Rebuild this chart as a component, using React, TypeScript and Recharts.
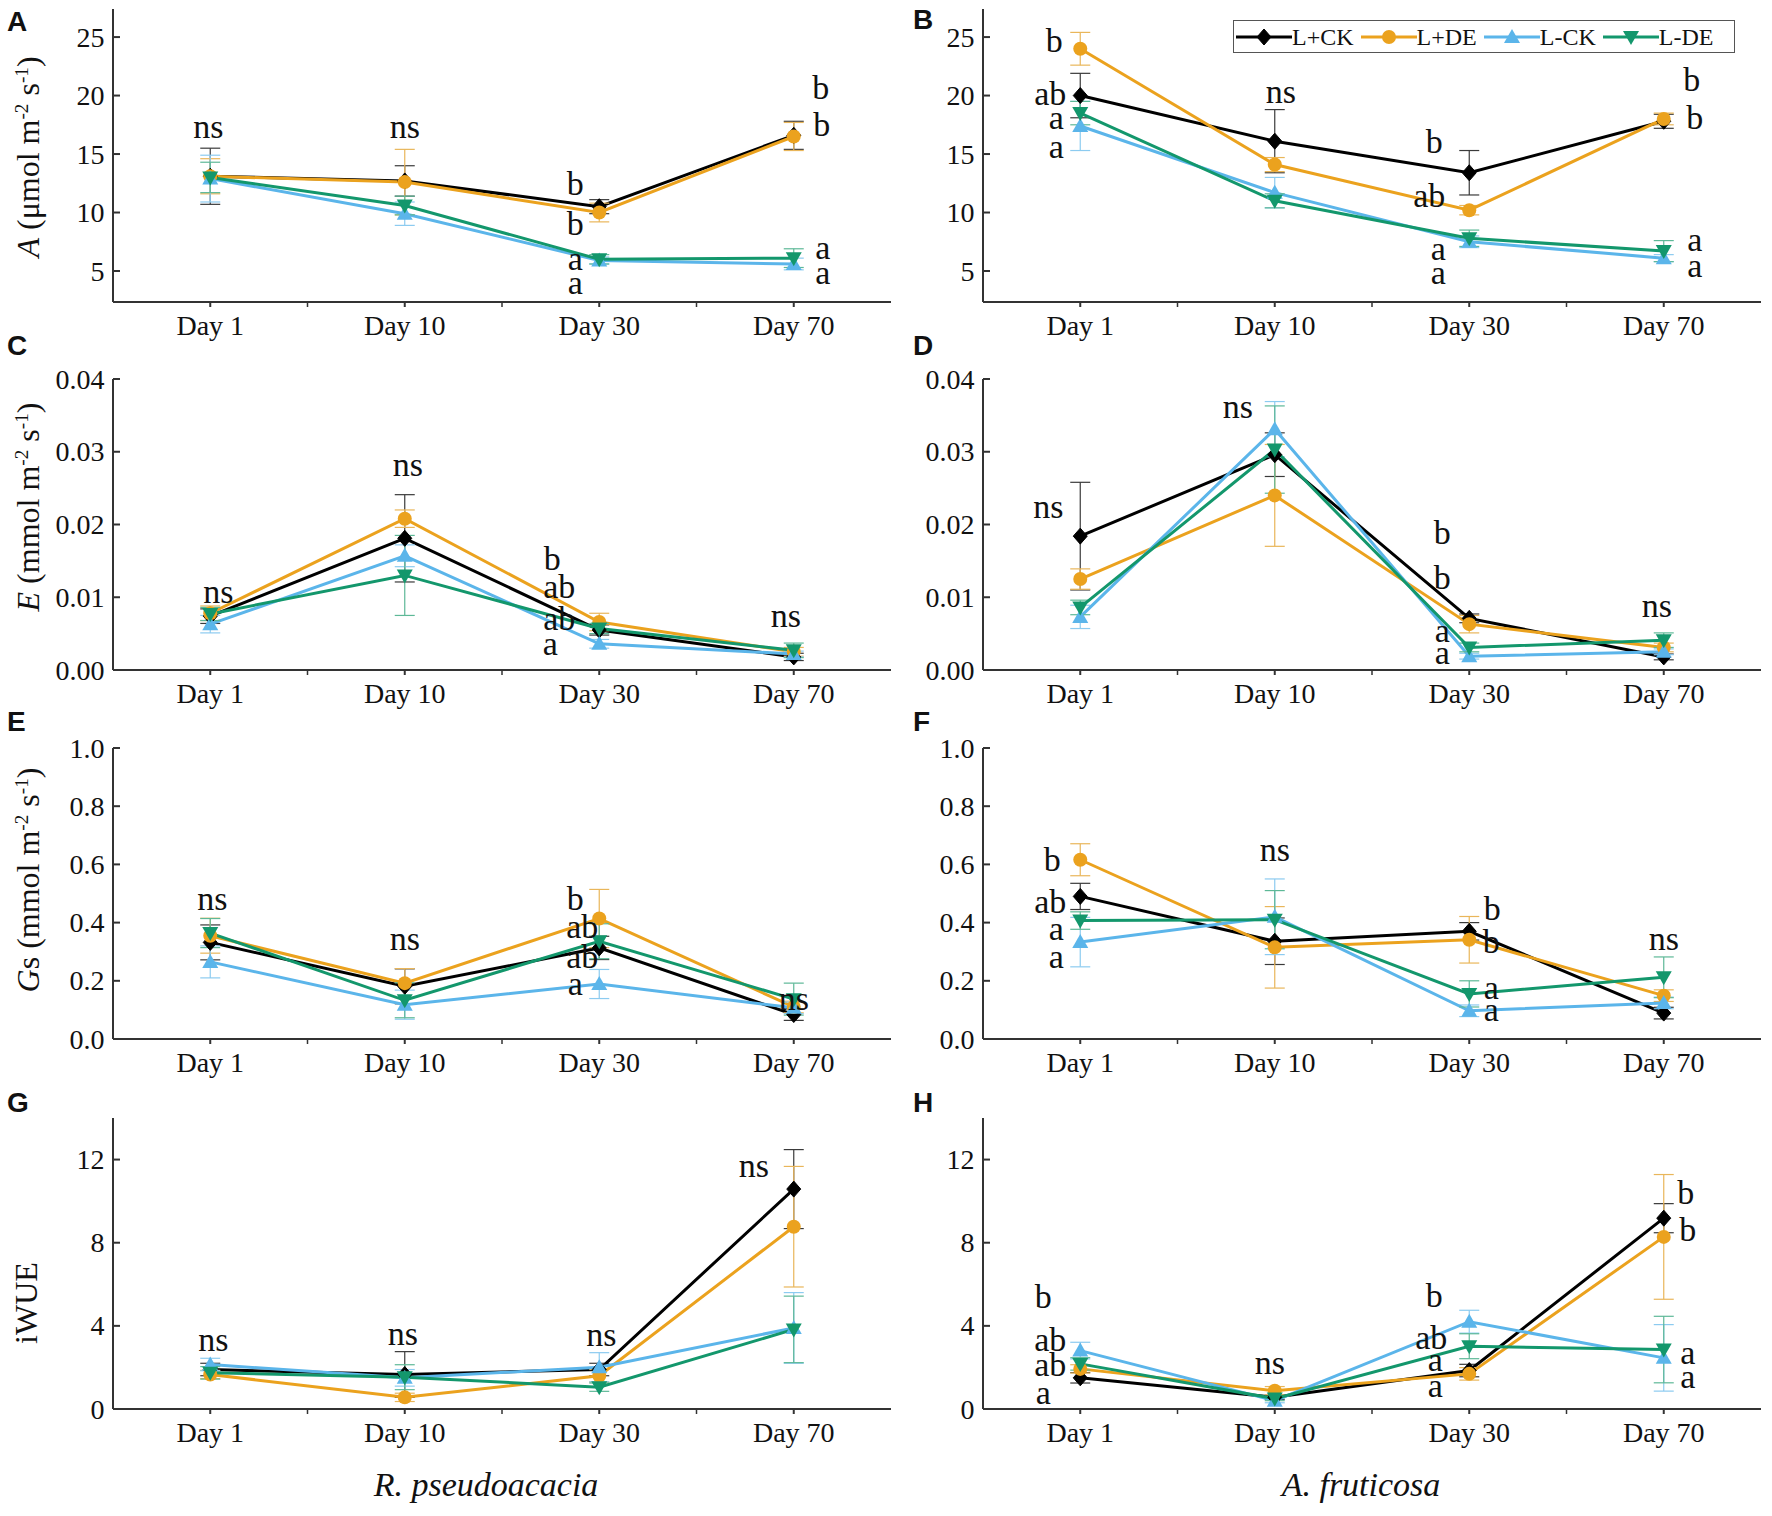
import React from "react";
import { LineChart, Line, XAxis, YAxis, ErrorBar, ReferenceDot } from "recharts";

const serif = "'Liberation Serif', 'Times New Roman', serif";
const sans = "'Liberation Sans', Arial, sans-serif";

const days = ["Day 1", "Day 10", "Day 30", "Day 70"];
const seriesNames = ["L+CK", "L+DE", "L-CK", "L-DE"];
const seriesColors = ["#000000", "#EBA21E", "#5BB5EA", "#13976C"];
const errorColors = ["#3a3a3a", "#E9B65A", "#8CCBF0", "#5DB897"];
const markerShapes = ["diamond", "circle", "up", "down"];

// A, R. pseudoacacia
const aRpCK = [13.1, 12.7, 10.5, 16.6];
const aRpDE = [13.1, 12.6, 10.0, 16.5];
const aRpLCK = [12.9, 9.9, 5.9, 5.6];
const aRpLDE = [13.0, 10.6, 6.0, 6.1];
const aRpCKErr = [2.4, 1.3, 0.6, 1.2];
const aRpDEErr = [1.5, 2.8, 0.8, 1.2];
const aRpLCKErr = [2.0, 1.0, 0.3, 0.5];
const aRpLDEErr = [1.3, 0.8, 0.4, 0.8];

// A, A. fruticosa
const aAfCK = [20.0, 16.1, 13.4, 17.8];
const aAfDE = [24.0, 14.1, 10.2, 18.0];
const aAfLCK = [17.4, 11.7, 7.5, 6.1];
const aAfLDE = [18.5, 11.0, 7.8, 6.7];
const aAfCKErr = [1.9, 2.7, 1.9, 0.6];
const aAfDEErr = [1.4, 0.6, 0.4, 0.5];
const aAfLCKErr = [2.1, 1.3, 0.5, 0.3];
const aAfLDEErr = [1.0, 0.6, 0.7, 0.9];

// E, R. pseudoacacia
const eRpCK = [0.0074, 0.0181, 0.0055, 0.0018];
const eRpDE = [0.0078, 0.0208, 0.0066, 0.0025];
const eRpLCK = [0.0063, 0.0157, 0.0036, 0.0022];
const eRpLDE = [0.0077, 0.013, 0.0057, 0.0027];
const eRpCKErr = [0.001, 0.006, 0.0007, 0.0005];
const eRpDEErr = [0.001, 0.0012, 0.0012, 0.0006];
const eRpLCKErr = [0.0012, 0.0015, 0.0006, 0.0004];
const eRpLDEErr = [0.0009, 0.0055, 0.0007, 0.001];

// E, A. fruticosa
const eAfCK = [0.0184, 0.0296, 0.0071, 0.0018];
const eAfDE = [0.0125, 0.024, 0.0063, 0.0031];
const eAfLCK = [0.0073, 0.0331, 0.0019, 0.0025];
const eAfLDE = [0.0086, 0.0303, 0.0031, 0.0041];
const eAfCKErr = [0.0074, 0.003, 0.0006, 0.0004];
const eAfDEErr = [0.0014, 0.007, 0.0012, 0.0006];
const eAfLCKErr = [0.0016, 0.0038, 0.0004, 0.0004];
const eAfLDEErr = [0.001, 0.006, 0.0006, 0.001];

// Gs, R. pseudoacacia
const gRpCK = [0.332, 0.181, 0.313, 0.084];
const gRpDE = [0.355, 0.192, 0.414, 0.11];
const gRpLCK = [0.265, 0.118, 0.189, 0.107];
const gRpLDE = [0.364, 0.133, 0.336, 0.137];
const gRpCKErr = [0.06, 0.06, 0.04, 0.02];
const gRpDEErr = [0.06, 0.05, 0.1, 0.02];
const gRpLCKErr = [0.055, 0.05, 0.05, 0.02];
const gRpLDEErr = [0.05, 0.06, 0.06, 0.055];

// Gs, A. fruticosa
const gAfCK = [0.49, 0.336, 0.37, 0.089];
const gAfDE = [0.616, 0.315, 0.341, 0.149];
const gAfLCK = [0.333, 0.42, 0.097, 0.124];
const gAfLDE = [0.407, 0.41, 0.155, 0.212];
const gAfCKErr = [0.045, 0.08, 0.03, 0.02];
const gAfDEErr = [0.055, 0.14, 0.08, 0.02];
const gAfLCKErr = [0.085, 0.13, 0.02, 0.02];
const gAfLDEErr = [0.03, 0.1, 0.045, 0.07];

// iWUE, R. pseudoacacia
const wRpCK = [1.9, 1.66, 1.9, 10.58];
const wRpDE = [1.66, 0.56, 1.6, 8.77];
const wRpLCK = [2.14, 1.5, 2.01, 3.9];
const wRpLDE = [1.74, 1.53, 1.05, 3.83];
const wRpCKErr = [0.3, 1.1, 0.3, 1.9];
const wRpDEErr = [0.2, 0.2, 0.3, 2.9];
const wRpLCKErr = [0.3, 0.4, 0.7, 1.7];
const wRpLDEErr = [0.3, 0.6, 0.2, 1.6];

// iWUE, A. fruticosa
const wAfCK = [1.5, 0.56, 1.85, 9.18];
const wAfDE = [1.93, 0.88, 1.69, 8.28];
const wAfLCK = [2.81, 0.4, 4.2, 2.46];
const wAfLDE = [2.17, 0.5, 3.02, 2.86];
const wAfCKErr = [0.25, 0.1, 0.3, 0.7];
const wAfDEErr = [0.2, 0.2, 0.3, 3.0];
const wAfLCKErr = [0.4, 0.1, 0.55, 1.6];
const wAfLDEErr = [0.3, 0.1, 0.6, 1.6];

// significance letters: [day, value at baseline, text]
const notesA: [string, number, string][] = [
  ["Day 1", 16.4, "ns"], ["Day 10", 16.4, "ns"],
  ["Day 30", 11.5, "b"], ["Day 30", 8.1, "b"], ["Day 30", 5.1, "a"], ["Day 30", 3.0, "a"],
  ["Day 70", 19.7, "b"], ["Day 70", 16.5, "b"], ["Day 70", 6.0, "a"], ["Day 70", 3.9, "a"],
];
const notesADx = [-2, 0, -24, -24, -24, -24, 27, 28, 29, 29];

const notesB: [string, number, string][] = [
  ["Day 1", 23.7, "b"], ["Day 1", 19.2, "ab"], ["Day 1", 17.1, "a"], ["Day 1", 14.7, "a"],
  ["Day 10", 19.4, "ns"],
  ["Day 30", 15.1, "b"], ["Day 30", 10.5, "ab"], ["Day 30", 5.9, "a"], ["Day 30", 3.9, "a"],
  ["Day 70", 20.4, "b"], ["Day 70", 17.1, "b"], ["Day 70", 6.7, "a"], ["Day 70", 4.5, "a"],
];
const notesBDx = [-26, -30, -24, -24, 6, -35, -40, -31, -31, 28, 31, 31, 31];

const notesC: [string, number, string][] = [
  ["Day 1", 0.0092, "ns"], ["Day 10", 0.0266, "ns"],
  ["Day 30", 0.0138, "b"], ["Day 30", 0.0099, "ab"], ["Day 30", 0.0055, "ab"], ["Day 30", 0.0021, "a"],
  ["Day 70", 0.0059, "ns"],
];
const notesCDx = [8, 3, -47, -40, -40, -49, -8];

const notesD: [string, number, string][] = [
  ["Day 1", 0.0209, "ns"], ["Day 10", 0.0346, "ns"],
  ["Day 30", 0.0173, "b"], ["Day 30", 0.0112, "b"], ["Day 30", 0.0039, "a"], ["Day 30", 0.0008, "a"],
  ["Day 70", 0.0073, "ns"],
];
const notesDDx = [-32, -37, -27, -27, -27, -27, -7];

const notesE: [string, number, string][] = [
  ["Day 1", 0.444, "ns"], ["Day 10", 0.307, "ns"],
  ["Day 30", 0.444, "b"], ["Day 30", 0.347, "ab"], ["Day 30", 0.244, "ab"], ["Day 30", 0.152, "a"],
  ["Day 70", 0.101, "ns"],
];
const notesEDx = [2, 0, -24, -17, -17, -24, 0];

const notesF: [string, number, string][] = [
  ["Day 1", 0.576, "b"], ["Day 1", 0.433, "ab"], ["Day 1", 0.341, "a"], ["Day 1", 0.244, "a"],
  ["Day 10", 0.61, "ns"],
  ["Day 30", 0.41, "b"], ["Day 30", 0.296, "b"], ["Day 30", 0.138, "a"], ["Day 30", 0.061, "a"],
  ["Day 70", 0.307, "ns"],
];
const notesFDx = [-28, -30, -24, -24, 0, 23, 22, 22, 22, 0];

const notesG: [string, number, string][] = [
  ["Day 1", 2.78, "ns"], ["Day 10", 3.07, "ns"], ["Day 30", 3.02, "ns"], ["Day 70", 11.15, "ns"],
];
const notesGDx = [3, -2, 2, -40];

const notesH: [string, number, string][] = [
  ["Day 1", 4.87, "b"], ["Day 1", 2.81, "ab"], ["Day 1", 1.58, "ab"], ["Day 1", 0.24, "a"],
  ["Day 10", 1.66, "ns"],
  ["Day 30", 4.9, "b"], ["Day 30", 2.91, "ab"], ["Day 30", 1.85, "a"], ["Day 30", 0.56, "a"],
  ["Day 70", 9.86, "b"], ["Day 70", 8.06, "b"], ["Day 70", 2.17, "a"], ["Day 70", 1.01, "a"],
];
const notesHDx = [-37, -30, -30, -37, -5, -35, -38, -34, -34, 22, 24, 24, 24];

const TOP = 20;

function Marker({ cx, cy, shape, color }: any) {
  if (cx == null || cy == null) return null;
  if (shape === "diamond")
    return <polygon points={`${cx},${cy - 8} ${cx + 7},${cy} ${cx},${cy + 8} ${cx - 7},${cy}`} fill={color} stroke={color} />;
  if (shape === "circle") return <circle cx={cx} cy={cy} r={7} fill={color} />;
  if (shape === "up")
    return <polygon points={`${cx},${cy - 8} ${cx + 8},${cy + 6} ${cx - 8},${cy + 6}`} fill={color} />;
  return <polygon points={`${cx},${cy + 8} ${cx + 8},${cy - 6} ${cx - 8},${cy - 6}`} fill={color} />;
}

function DayTick({ x, y, payload, index, half }: any) {
  return (
    <g>
      {index < 3 && <line x1={x + half} x2={x + half} y1={y - 5} y2={y} stroke="#333" strokeWidth={1.5} />}
      <text x={x} y={y + 28} textAnchor="middle" fontSize={28} fontFamily={serif} fill="#111">
        {payload.value}
      </text>
    </g>
  );
}

function ValueTick({ x, y, payload, fmt }: any) {
  return (
    <text x={x} y={y} dy="0.34em" textAnchor="end" fontSize={28} fontFamily={serif} fill="#111">
      {fmt(payload.value)}
    </text>
  );
}

function Panel({ left, top, width, axisW, right, plotH, series, errors, domain, ticks, fmt, notes, noteDx }: any) {
  const rows = days.map((d, i) => {
    const r: any = { day: d };
    series.forEach((s: number[], k: number) => {
      r[`s${k}`] = s[i];
      r[`e${k}`] = errors[k][i];
    });
    return r;
  });
  const half = (width - axisW - right) / 8;
  return (
    <div style={{ position: "absolute", left, top: top - TOP }}>
      <LineChart width={width} height={TOP + plotH + 50} data={rows} margin={{ top: TOP, right, bottom: 0, left: 0 }}>
        <XAxis
          dataKey="day"
          scale="point"
          padding={{ left: half, right: half }}
          interval={0}
          height={50}
          tickSize={5}
          tickMargin={0}
          stroke="#333"
          strokeWidth={2}
          tick={(p: any) => <DayTick {...p} half={half} />}
        />
        <XAxis xAxisId="top" orientation="top" type="number" domain={[0, 1]} tick={false} tickLine={false} height={0} stroke="#333" strokeWidth={2} />
        <YAxis
          type="number"
          domain={domain}
          ticks={ticks}
          interval={0}
          allowDataOverflow
          width={axisW}
          tickSize={-7}
          tickMargin={15.5}
          stroke="#333"
          strokeWidth={2}
          tick={(p: any) => <ValueTick {...p} fmt={fmt} />}
        />
        <YAxis yAxisId="right" orientation="right" type="number" domain={[0, 1]} tick={false} tickLine={false} width={0} stroke="#333" strokeWidth={2} />
        {series.map((_: number[], k: number) => (
          <Line
            key={k}
            dataKey={`s${k}`}
            stroke={seriesColors[k]}
            strokeWidth={3}
            isAnimationActive={false}
            activeDot={false}
            dot={(p: any) => <Marker key={`m${k}-${p.index}`} cx={p.cx} cy={p.cy} shape={markerShapes[k]} color={seriesColors[k]} />}
          >
            <ErrorBar dataKey={`e${k}`} width={10} stroke={errorColors[k]} strokeWidth={1.2} direction="y" />
          </Line>
        ))}
        {notes.map((n: [string, number, string], j: number) => (
          <ReferenceDot
            key={`n${j}`}
            x={n[0]}
            y={n[1]}
            r={0}
            ifOverflow="visible"
            shape={(p: any) => (
              <text x={p.cx + noteDx[j]} y={p.cy} textAnchor="middle" fontSize={34} fontFamily={serif} fill="#111">
                {n[2]}
              </text>
            )}
          />
        ))}
      </LineChart>
    </div>
  );
}

function YTitle({ x, y, children }: any) {
  return (
    <div
      style={{
        position: "absolute",
        left: x,
        top: y,
        transform: "translate(-50%,-50%) rotate(-90deg)",
        whiteSpace: "nowrap",
        fontSize: 32,
        fontFamily: serif,
        lineHeight: 1,
        color: "#111",
      }}
    >
      {children}
    </div>
  );
}

const sup = { fontSize: "0.6em" };

function Letter({ x, y, children }: any) {
  return (
    <div style={{ position: "absolute", left: x, top: y, fontSize: 28, lineHeight: "28px", fontWeight: 700, fontFamily: sans, color: "#111" }}>
      {children}
    </div>
  );
}

function Legend() {
  return (
    <div
      style={{
        position: "absolute",
        left: 1233,
        top: 20,
        width: 502,
        height: 33,
        boxSizing: "border-box",
        border: "1.5px solid #555",
        display: "flex",
        alignItems: "center",
        paddingLeft: 2,
        background: "#fff",
        whiteSpace: "nowrap",
        overflow: "visible",
      }}
    >
      {seriesNames.map((name, k) => (
        <div key={name} style={{ display: "flex", alignItems: "center", marginRight: 7, flexShrink: 0 }}>
          <svg width={56} height={20} style={{ flexShrink: 0 }}>
            <line x1={0} x2={56} y1={10} y2={10} stroke={seriesColors[k]} strokeWidth={3} />
            <Marker cx={28} cy={10} shape={markerShapes[k]} color={seriesColors[k]} />
          </svg>
          <span style={{ fontSize: 24, fontFamily: serif, color: "#111", lineHeight: "24px", whiteSpace: "nowrap" }}>{name}</span>
        </div>
      ))}
    </div>
  );
}

const fmt2 = (v: number) => v.toFixed(2);
const fmt1 = (v: number) => v.toFixed(1);
const fmt0 = (v: number) => `${v}`;

export default function App() {
  const L = { left: 0, width: 901, axisW: 113, right: 10 };
  const R = { left: 900, width: 872, axisW: 83, right: 11 };
  return (
    <div style={{ position: "absolute", left: 0, top: 0, width: 1772, height: 1516, background: "#fff", overflow: "hidden" }}>
      <Panel {...L} top={9} plotH={293} domain={[2.35, 27.4]} ticks={[5, 10, 15, 20, 25]} fmt={fmt0}
        series={[aRpCK, aRpDE, aRpLCK, aRpLDE]} errors={[aRpCKErr, aRpDEErr, aRpLCKErr, aRpLDEErr]} notes={notesA} noteDx={notesADx} />
      <Panel {...R} top={9} plotH={293} domain={[2.35, 27.4]} ticks={[5, 10, 15, 20, 25]} fmt={fmt0}
        series={[aAfCK, aAfDE, aAfLCK, aAfLDE]} errors={[aAfCKErr, aAfDEErr, aAfLCKErr, aAfLDEErr]} notes={notesB} noteDx={notesBDx} />
      <Panel {...L} top={379} plotH={291} domain={[0, 0.04]} ticks={[0, 0.01, 0.02, 0.03, 0.04]} fmt={fmt2}
        series={[eRpCK, eRpDE, eRpLCK, eRpLDE]} errors={[eRpCKErr, eRpDEErr, eRpLCKErr, eRpLDEErr]} notes={notesC} noteDx={notesCDx} />
      <Panel {...R} top={379} plotH={291} domain={[0, 0.04]} ticks={[0, 0.01, 0.02, 0.03, 0.04]} fmt={fmt2}
        series={[eAfCK, eAfDE, eAfLCK, eAfLDE]} errors={[eAfCKErr, eAfDEErr, eAfLCKErr, eAfLDEErr]} notes={notesD} noteDx={notesDDx} />
      <Panel {...L} top={748} plotH={291} domain={[0, 1]} ticks={[0, 0.2, 0.4, 0.6, 0.8, 1]} fmt={fmt1}
        series={[gRpCK, gRpDE, gRpLCK, gRpLDE]} errors={[gRpCKErr, gRpDEErr, gRpLCKErr, gRpLDEErr]} notes={notesE} noteDx={notesEDx} />
      <Panel {...R} top={748} plotH={291} domain={[0, 1]} ticks={[0, 0.2, 0.4, 0.6, 0.8, 1]} fmt={fmt1}
        series={[gAfCK, gAfDE, gAfLCK, gAfLDE]} errors={[gAfCKErr, gAfDEErr, gAfLCKErr, gAfLDEErr]} notes={notesF} noteDx={notesFDx} />
      <Panel {...L} top={1118} plotH={291} domain={[0, 14]} ticks={[0, 4, 8, 12]} fmt={fmt0}
        series={[wRpCK, wRpDE, wRpLCK, wRpLDE]} errors={[wRpCKErr, wRpDEErr, wRpLCKErr, wRpLDEErr]} notes={notesG} noteDx={notesGDx} />
      <Panel {...R} top={1118} plotH={291} domain={[0, 14]} ticks={[0, 4, 8, 12]} fmt={fmt0}
        series={[wAfCK, wAfDE, wAfLCK, wAfLDE]} errors={[wAfCKErr, wAfDEErr, wAfLCKErr, wAfLDEErr]} notes={notesH} noteDx={notesHDx} />

      <YTitle x={28} y={157}><i>A</i> (μmol m<sup style={sup}>-2</sup> s<sup style={sup}>-1</sup>)</YTitle>
      <YTitle x={28} y={507}><i>E</i> (mmol m<sup style={sup}>-2</sup> s<sup style={sup}>-1</sup>)</YTitle>
      <YTitle x={28} y={880}><i>G</i>s (mmol m<sup style={sup}>-2</sup> s<sup style={sup}>-1</sup>)</YTitle>
      <YTitle x={26} y={1303}>iWUE</YTitle>

      <Letter x={7} y={8}>A</Letter>
      <Letter x={913} y={6}>B</Letter>
      <Letter x={7} y={332}>C</Letter>
      <Letter x={913} y={332}>D</Letter>
      <Letter x={7} y={708}>E</Letter>
      <Letter x={913} y={708}>F</Letter>
      <Letter x={7} y={1089}>G</Letter>
      <Letter x={913} y={1089}>H</Letter>

      <Legend />

      <div style={{ position: "absolute", left: 486, top: 1465, transform: "translateX(-50%)", fontSize: 34, lineHeight: "40px", fontStyle: "italic", fontFamily: serif, whiteSpace: "nowrap", color: "#111" }}>
        R. pseudoacacia
      </div>
      <div style={{ position: "absolute", left: 1361, top: 1465, transform: "translateX(-50%)", fontSize: 34, lineHeight: "40px", fontStyle: "italic", fontFamily: serif, whiteSpace: "nowrap", color: "#111" }}>
        A. fruticosa
      </div>
    </div>
  );
}
